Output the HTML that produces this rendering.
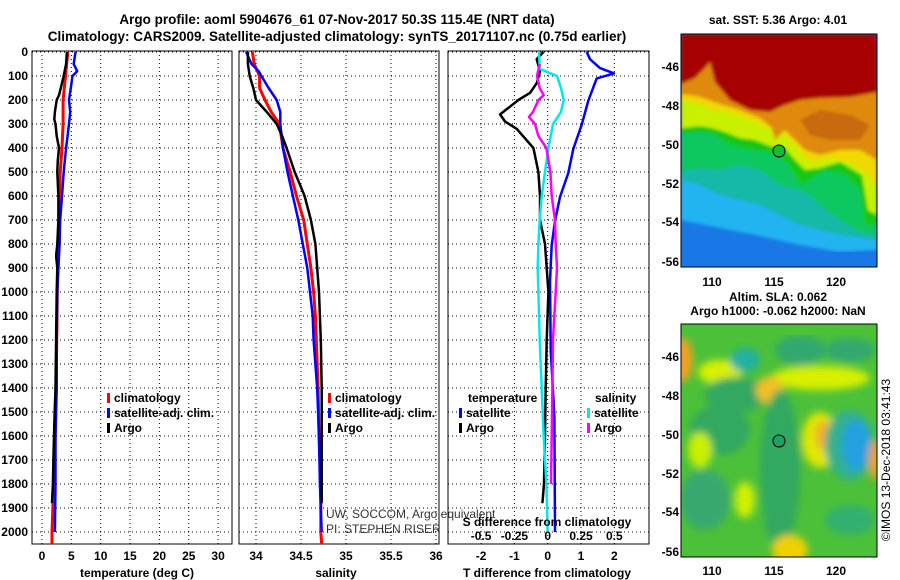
<!DOCTYPE html>
<html><head><meta charset="utf-8">
<style>
html,body{margin:0;padding:0;background:#fff;}
svg{display:block;font-family:"Liberation Sans",Arial,sans-serif;}
.b{font-weight:bold;font-size:12px;fill:#000;}
.n{font-weight:normal;font-size:12px;fill:#333;}
.t{font-weight:bold;font-size:13.5px;fill:#000;}
.grid{stroke:#000;stroke-width:1;stroke-dasharray:1,3;}
</style></head><body>
<svg id="fig" width="900" height="580" viewBox="0 0 900 580">
<defs>
<filter id="bl" x="0" y="0" width="1" height="1"><feGaussianBlur stdDeviation="4"/></filter>
<filter id="bl2" x="0" y="0" width="1" height="1"><feGaussianBlur stdDeviation="1.5"/></filter>
<clipPath id="c1"><rect x="681" y="34" width="196" height="233"/></clipPath>
<clipPath id="c2"><rect x="681" y="324" width="196" height="233"/></clipPath>
</defs>
<text class="t" x="337" y="24" text-anchor="middle">Argo profile: aoml 5904676_61 07-Nov-2017 50.3S 115.4E (NRT data)</text>
<text class="t" x="337" y="41" text-anchor="middle">Climatology: CARS2009. Satellite-adjusted climatology: synTS_20171107.nc (0.75d earlier)</text>

<g id="p1"></g>
<g id="p2"></g>
<g id="p3"></g>

<!-- SST map -->
<text class="b" x="778" y="24" text-anchor="middle">sat. SST: 5.36 Argo: 4.01</text>
<g clip-path="url(#c1)">
<rect x="681" y="34" width="196" height="233" fill="#1a78e6"/>
<g filter="url(#bl2)">
<polygon points="681,34 877,34 877,250 840,252 800,245 760,236 720,228 681,220" fill="#20b4f0"/>
<polygon points="681,34 877,34 877,240 840,235 800,225 780,215 760,205 740,200 720,195 700,185 681,180" fill="#14b8a8"/>
<polygon points="681,34 877,34 877,235 860,232 840,220 820,205 810,195 800,190 780,185 760,170 740,165 720,170 700,168 681,172" fill="#10c860"/>
<polygon points="681,34 877,34 877,225 865,225 860,190 845,175 825,170 810,180 800,185 795,175 785,160 770,152 750,150 730,145 712,133 700,132 681,133" fill="#18c818"/>
<polygon points="681,34 877,34 877,215 868,210 862,175 840,162 820,168 805,170 795,160 785,148 770,146 755,140 740,138 725,132 712,128 700,126 681,128" fill="#c8f000"/>
<polygon points="681,34 877,34 877,190 868,175 850,162 830,158 815,162 805,158 795,145 785,135 770,128 750,120 730,112 712,110 700,104 681,100" fill="#f0d800"/>
<polygon points="681,34 877,34 877,160 860,150 840,150 820,155 805,150 795,140 785,130 775,140 772,128 760,118 740,110 720,104 700,97 681,94" fill="#e08a10"/>
<polygon points="681,34 877,34 877,92 850,97 820,98 800,100 782,106 770,112 750,110 730,100 715,82 710,62 705,68 695,78 681,84" fill="#a60000"/>
<polygon points="800,120 820,110 850,115 870,125 860,140 830,140 810,135" fill="#c86a10"/>
</g>
<circle cx="779" cy="151" r="6" fill="#10c030" stroke="#000" stroke-width="1"/>
</g>
<rect x="681" y="34" width="196" height="233" fill="none" stroke="#000"/>
<g class="b">
<text x="679" y="71" text-anchor="end">-46</text><text x="679" y="110" text-anchor="end">-48</text><text x="679" y="149" text-anchor="end">-50</text><text x="679" y="188" text-anchor="end">-52</text><text x="679" y="226" text-anchor="end">-54</text><text x="679" y="266" text-anchor="end">-56</text>
</g>
<g class="b" text-anchor="middle">
<text x="712" y="286">110</text><text x="774" y="286">115</text><text x="836" y="286">120</text>
</g>

<!-- SLA map -->
<text class="b" x="778" y="301" text-anchor="middle">Altim. SLA: 0.062</text>
<text class="b" x="778" y="315" text-anchor="middle">Argo h1000: -0.062 h2000: NaN</text>
<g clip-path="url(#c2)">
<rect x="681" y="324" width="196" height="233" fill="#4cc038"/>
<g filter="url(#bl)">
<ellipse cx="720" cy="372" rx="22" ry="12" fill="#d8f000"/>
<ellipse cx="683" cy="360" rx="10" ry="22" fill="#f0a020"/>
<ellipse cx="735" cy="395" rx="30" ry="18" fill="#30a860"/>
<ellipse cx="745" cy="360" rx="15" ry="12" fill="#20b0a0"/>
<ellipse cx="820" cy="378" rx="50" ry="12" fill="#d8f000"/>
<ellipse cx="770" cy="390" rx="14" ry="14" fill="#f0c020"/>
<ellipse cx="800" cy="350" rx="25" ry="15" fill="#30a870"/>
<ellipse cx="850" cy="350" rx="25" ry="12" fill="#30a870"/>
<ellipse cx="780" cy="470" rx="20" ry="80" fill="#30a860"/>
<ellipse cx="820" cy="440" rx="18" ry="28" fill="#e0e800"/>
<ellipse cx="823" cy="435" rx="8" ry="15" fill="#f0b020"/>
<ellipse cx="850" cy="445" rx="25" ry="35" fill="#30b090"/>
<ellipse cx="856" cy="445" rx="14" ry="25" fill="#20a0e0"/>
<ellipse cx="720" cy="430" rx="30" ry="25" fill="#30a860"/>
<ellipse cx="705" cy="500" rx="25" ry="30" fill="#38a870"/>
<ellipse cx="745" cy="500" rx="10" ry="18" fill="#d0f000"/>
<ellipse cx="790" cy="550" rx="18" ry="15" fill="#f0d000"/>
<ellipse cx="875" cy="460" rx="6" ry="20" fill="#f0a020"/>
<ellipse cx="850" cy="520" rx="25" ry="15" fill="#30b070"/>
<ellipse cx="700" cy="450" rx="12" ry="18" fill="#c8f000"/>
</g>
<circle cx="779" cy="441" r="6" fill="#20a060" stroke="#000" stroke-width="1"/>
</g>
<rect x="681" y="324" width="196" height="233" fill="none" stroke="#000"/>
<g class="b">
<text x="679" y="361" text-anchor="end">-46</text><text x="679" y="400" text-anchor="end">-48</text><text x="679" y="439" text-anchor="end">-50</text><text x="679" y="478" text-anchor="end">-52</text><text x="679" y="516" text-anchor="end">-54</text><text x="679" y="556" text-anchor="end">-56</text>
</g>
<g class="b" text-anchor="middle">
<text x="712" y="575">110</text><text x="774" y="575">115</text><text x="836" y="575">120</text>
</g>
<text x="890" y="460" transform="rotate(-90 890 460)" text-anchor="middle" font-size="12" fill="#000">©IMOS 13-Dec-2018 03:41:43</text>
</svg>
<script>
// depth arrays and values
const depthTicks = [0,100,200,300,400,500,600,700,800,900,1000,1100,1200,1300,1400,1500,1600,1700,1800,1900,2000];
const tempTicks = [0,5,10,15,20,25,30];
const salTicks = [34,34.5,35,35.5,36];
const salTickLabels = ["34","34.5","35","35.5","36"];
const tdTicks = [-2,-1,0,1,2];
const sdTicks = [-0.5,-0.25,0,0.25,0.5];
const sdTickLabels = ["-0.5","-0.25","0","0.25","0.5"];

const tClimDepth = [0,100,200,300,400,500,600,700,800,900,1000,1200,1400,1600,1800,2000,2050];
const tClim = [4.4,4.0,3.6,3.6,3.4,3.1,3.0,3.0,2.8,2.7,2.6,2.5,2.4,2.25,2.0,1.7,1.7];
const tSatDepth = [0,50,80,100,150,200,250,300,400,500,600,700,800,900,1000,1200,1400,1600,1800,2000];
const tSat = [5.7,5.4,6.0,5.2,4.9,4.6,4.8,4.6,4.1,3.7,3.4,3.1,3.0,2.8,2.6,2.5,2.5,2.3,2.3,2.2];
const tArgoDepth = [0,50,100,150,180,200,250,280,300,350,400,450,500,600,700,800,850,900,1000,1200,1400,1550,1700,1800,1880];
const tArgo = [4.25,4.1,3.7,3.2,2.9,2.5,2.2,2.1,2.3,2.5,2.9,2.7,2.6,2.8,2.8,2.6,2.4,2.6,2.5,2.4,2.3,2.1,1.95,1.85,1.7];

const sClimDepth = [0,50,100,150,200,250,300,400,500,600,700,800,900,1000,1100,1200,1400,1600,1800,2000,2050];
const sClim = [33.96,33.98,34.04,34.04,34.10,34.17,34.26,34.30,34.38,34.45,34.53,34.57,34.61,34.64,34.66,34.67,34.69,34.70,34.72,34.72,34.73];
const sSatDepth = [0,50,80,100,150,200,250,300,400,500,600,700,800,900,1000,1100,1200,1400,1600,1800,2000];
const sSat = [33.89,33.95,34.03,34.06,34.14,34.23,34.27,34.27,34.30,34.35,34.41,34.47,34.52,34.57,34.60,34.63,34.64,34.68,34.70,34.71,34.73];
const sArgoDepth = [0,50,100,150,200,250,300,350,400,500,600,700,800,900,1000,1200,1400,1600,1880];
const sArgo = [33.91,33.91,33.93,33.97,34.0,34.12,34.23,34.29,34.34,34.43,34.54,34.61,34.66,34.68,34.70,34.72,34.73,34.73,34.73];

const dTSatDepth = [0,30,67,89,110,203,303,404,504,604,704,805,955,1241,1442,1527,2000];
const dTSat = [1.17,1.27,1.57,1.99,1.47,1.22,1.02,0.77,0.62,0.37,0.22,0.12,0.07,0.09,0.17,0.2,0.22];
const dTArgoDepth = [0,30,80,130,170,200,260,290,320,400,500,600,700,800,1000,1200,1400,1600,1800,1880];
const dTArgo = [-0.13,-0.33,-0.23,-0.33,-0.53,-0.88,-1.43,-1.28,-0.93,-0.43,-0.28,-0.23,-0.23,-0.08,0.02,-0.03,-0.06,-0.08,-0.11,-0.16];
const dSSatDepth = [0,70,100,150,200,250,300,400,500,600,700,800,900,1000,1200,1400,1600,1800,2000];
const dSSat = [-0.065,-0.06,0.07,0.1,0.12,0.1,0.04,0.005,-0.02,-0.045,-0.06,-0.07,-0.075,-0.07,-0.06,-0.045,-0.03,-0.01,0];
const dSArgoDepth = [50,100,150,180,200,250,270,300,350,400,500,600,700,800,900,1000,1200,1400,1600,1800];
const dSArgo = [-0.06,-0.08,-0.06,-0.03,-0.07,-0.11,-0.14,-0.095,-0.07,-0.01,0.02,0.03,0.055,0.06,0.07,0.06,0.04,0.035,0.03,0.025];

const NS='http://www.w3.org/2000/svg';
const TOP=51, BOT=544;
function yD(d){return 52+d*0.24;}
function xTemp(t){return 42+t*5.87;}
function xSal(s){return 256+(s-34)*90;}
function xTd(t){return 547.7+t*33.3;}
function xSd(s){return 547.7+s*133.3;}
function mk(parent,tag,attrs){const e=document.createElementNS(NS,tag);for(const k in attrs)e.setAttribute(k,attrs[k]);parent.appendChild(e);return e;}

function frame(g,x0,x1,xs,yLabels,name){
  for(const d of depthTicks){
    const y=yD(d);
    const l=mk(g,'line',{x1:x0,x2:x1,y1:y,y2:y,class:'grid'});
    
    
    if(yLabels){
      const t=mk(g,'text',{x:x0-4,y:y+4,'text-anchor':'end',class:'b'});
      t.textContent=d;
      
      
    }
  }
  for(const x of xs){
    const l=mk(g,'line',{x1:x,x2:x,y1:TOP,y2:BOT,class:'grid'});
    
    
  }
  const r=mk(g,'rect',{x:x0,y:TOP,width:x1-x0,height:BOT-TOP,fill:'none',stroke:'#000','stroke-width':1});
  
  
}
function line(g,depths,vals,xf,color,name,w){
  const pts=depths.map((d,i)=>xf(vals[i]).toFixed(1)+','+yD(d).toFixed(1)).join(' ');
  const p=mk(g,'polyline',{points:pts,fill:'none',stroke:color,'stroke-width':w||2.5,'stroke-linejoin':'round'});
  
  
}
function xlabels(g,vals,labels,xf,y,name){
  vals.forEach((v,i)=>{
    const t=mk(g,'text',{x:xf(v),y:y,'text-anchor':'middle',class:'b'});
    t.textContent=labels[i];
    
    
  });
}
function txt(g,x,y,s,name,extra,cls){
  const t=mk(g,'text',Object.assign({x:x,y:y,class:cls||'b'},extra||{}));
  t.textContent=s;
  
  
  return t;
}
function legend(g,x,y,color,label,name){
  const r=mk(g,'rect',{x:x,y:y-9,width:3,height:10,fill:color});
  
  
  txt(g,x+7,y,label,name);
}

// Panel 1
const p1=document.getElementById('p1');
frame(p1,32,232,tempTicks.map(xTemp),true,'temperature-axes');
line(p1,tClimDepth,tClim,xTemp,'#ff0000','temperature-climatology-line',3);
line(p1,tSatDepth,tSat,xTemp,'#0000ff','temperature-satellite-line',2.5);
line(p1,tArgoDepth,tArgo,xTemp,'#000000','temperature-argo-line',2.5);
xlabels(p1,tempTicks,tempTicks.map(String),xTemp,560,'temperature-tick-label');
txt(p1,137,577,'temperature (deg C)','temperature-axis-title',{'text-anchor':'middle'});
legend(p1,107,402,'#ff0000','climatology','legend-climatology');
legend(p1,107,417,'#0000ff','satellite-adj. clim.','legend-satellite');
legend(p1,107,432,'#000000','Argo','legend-argo');

// Panel 2
const p2=document.getElementById('p2');
frame(p2,239,439,salTicks.map(xSal),false,'salinity-axes');
line(p2,sClimDepth,sClim,xSal,'#ff0000','salinity-climatology-line',3);
line(p2,sSatDepth,sSat,xSal,'#0000ff','salinity-satellite-line',2.5);
line(p2,sArgoDepth,sArgo,xSal,'#000000','salinity-argo-line',2.5);
xlabels(p2,salTicks,salTickLabels,xSal,560,'salinity-tick-label');
txt(p2,336,577,'salinity','salinity-axis-title',{'text-anchor':'middle'});
legend(p2,328,402,'#ff0000','climatology','legend-climatology');
legend(p2,328,417,'#0000ff','satellite-adj. clim.','legend-satellite');
legend(p2,328,432,'#000000','Argo','legend-argo');
txt(p2,326,518,'UW, SOCCOM, Argo equivalent','credit-line-1',{},'n');
txt(p2,326,533,'PI: STEPHEN RISER','credit-line-2',{},'n');

// Panel 3
const p3=document.getElementById('p3');
frame(p3,448,649,tdTicks.map(xTd),false,'difference-axes');
line(p3,dTSatDepth,dTSat,xTd,'#0000ff','t-diff-satellite-line',2.5);
line(p3,dTArgoDepth,dTArgo,xTd,'#000000','t-diff-argo-line',2.5);
line(p3,dSSatDepth,dSSat,xSd,'#00e8e8','s-diff-satellite-line',2.5);
line(p3,dSArgoDepth,dSArgo,xSd,'#ff00ff','s-diff-argo-line',2.5);
xlabels(p3,tdTicks,tdTicks.map(String),xTd,560,'t-diff-tick-label');
txt(p3,547,577,'T difference from climatology','t-diff-axis-title',{'text-anchor':'middle'});
txt(p3,547,526,'S difference from climatology','s-diff-axis-title',{'text-anchor':'middle'});
xlabels(p3,sdTicks,sdTickLabels,xSd,540,'s-diff-tick-label');
txt(p3,468,402,'temperature','legend-temperature-heading');
legend(p3,459,417,'#0000ff','satellite','legend-t-satellite');
legend(p3,459,432,'#000000','Argo','legend-t-argo');
txt(p3,595,402,'salinity','legend-salinity-heading');
legend(p3,587,417,'#00e8e8','satellite','legend-s-satellite');
legend(p3,587,432,'#ff00ff','Argo','legend-s-argo');
</script>
</body></html>
